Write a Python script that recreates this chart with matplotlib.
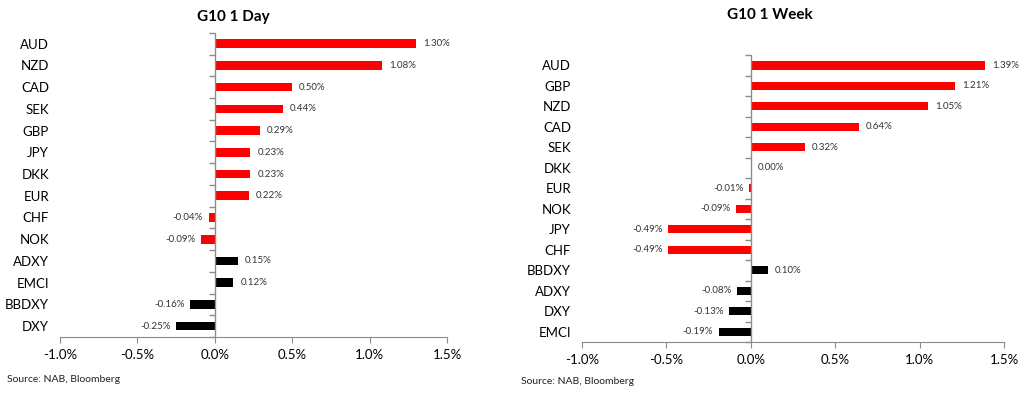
import numpy as np
import matplotlib
matplotlib.use("Agg")
import matplotlib.pyplot as plt
from matplotlib.ticker import FuncFormatter

plt.rcParams['font.family'] = ['Lato', 'DejaVu Sans']

day_labels = ["AUD", "NZD", "CAD", "SEK", "GBP", "JPY", "DKK", "EUR", "CHF", "NOK",
              "ADXY", "EMCI", "BBDXY", "DXY"]
day_values = [1.30, 1.08, 0.50, 0.44, 0.29, 0.23, 0.23, 0.22, -0.04, -0.09,
              0.15, 0.12, -0.16, -0.25]

week_labels = ["AUD", "GBP", "NZD", "CAD", "SEK", "DKK", "EUR", "NOK", "JPY", "CHF",
               "BBDXY", "ADXY", "DXY", "EMCI"]
week_values = [1.39, 1.21, 1.05, 0.64, 0.32, 0.00, -0.01, -0.09, -0.49, -0.49,
               0.10, -0.08, -0.13, -0.19]

n_g10 = 10
x_ticks = [-1.0, -0.5, 0.0, 0.5, 1.0, 1.5]
AXIS_GREY = "#8c8c8c"


def draw_panel(ax, labels, values):
    n = len(labels)
    pos = np.arange(n)
    colors = ["#ff0000"] * n_g10 + ["black"] * (n - n_g10)
    ax.barh(pos, values, height=0.4, color=colors)
    ax.set_ylim(n - 0.5, -0.5)
    ax.set_xlim(-1.0, 1.5)
    ax.set_yticks(pos)
    ax.set_yticklabels(labels, fontsize=9.5)
    ax.tick_params(axis="y", length=0, pad=8)
    ax.set_xticks(x_ticks)
    ax.xaxis.set_major_formatter(FuncFormatter(lambda v, p: f"{v:.1f}%"))
    ax.tick_params(axis="x", labelsize=9.5, length=4, color=AXIS_GREY, pad=5)
    for s in ["left", "right", "top"]:
        ax.spines[s].set_visible(False)
    ax.spines["bottom"].set_color(AXIS_GREY)
    # category axis drawn at zero with ticks between categories
    ax.axvline(0, color=AXIS_GREY, lw=1, zorder=1)
    bounds = np.arange(n + 1) - 0.5
    ax.plot([0] * len(bounds), bounds, ls="none", marker=0, ms=4,
            mec=AXIS_GREY, mew=1, clip_on=False)
    for y, v in zip(pos, values):
        if v >= 0:
            ax.annotate(f"{v:.2f}%", (v, y), xytext=(5, 0), textcoords="offset points",
                        ha="left", va="center", fontsize=7, color="#333333")
        else:
            ax.annotate(f"{v:.2f}%", (v, y), xytext=(-4, 0), textcoords="offset points",
                        ha="right", va="center", fontsize=7, color="#333333")


fig = plt.figure(figsize=(10.24, 3.94), dpi=100)
ax1 = fig.add_axes([0.0586, 0.1447, 0.378, 0.772])
ax2 = fig.add_axes([0.5684, 0.132, 0.4121, 0.728])

draw_panel(ax1, day_labels, day_values)
draw_panel(ax2, week_labels, week_values)

fig.text(233 / 1024, 1 - 17 / 394, "G10 1 Day", fontsize=11, fontweight="bold",
         ha="center", va="center")
fig.text(770 / 1024, 1 - 15 / 394, "G10 1 Week", fontsize=11, fontweight="bold",
         ha="center", va="center")

fig.text(7 / 1024, 1 - 379 / 394, "Source: NAB, Bloomberg", fontsize=7.5,
         va="center", color="#222222")
fig.text(521 / 1024, 1 - 381 / 394, "Source: NAB, Bloomberg", fontsize=7.5,
         va="center", color="#222222")

fig.savefig("out.png", dpi=100)
